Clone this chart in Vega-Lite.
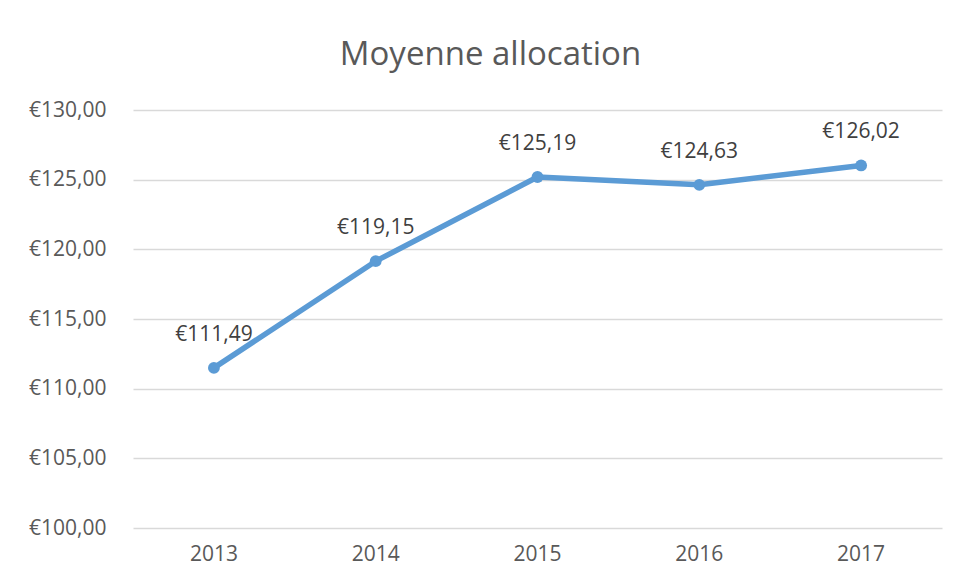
{
  "$schema": "https://vega.github.io/schema/vega-lite/v6.json",
  "width": 809,
  "height": 418,
  "autosize": {"type": "none"},
  "padding": {"left": 133, "top": 110, "right": 17, "bottom": 53},
  "background": "white",
  "config": {
    "locale": {"number": {"decimal": ",", "thousands": ".", "grouping": [3], "currency": ["€", ""]}},
    "view": {"stroke": null},
    "font": "Open Sans"
  },
  "title": {
    "text": "Moyenne allocation",
    "anchor": "middle",
    "frame": "group",
    "dx": -47,
    "offset": 27,
    "fontSize": 33,
    "font": "Open Sans",
    "fontWeight": "normal",
    "color": "#595959"
  },
  "data": {
    "values": [
      {"annee": "2013", "allocation": 111.49},
      {"annee": "2014", "allocation": 119.15},
      {"annee": "2015", "allocation": 125.19},
      {"annee": "2016", "allocation": 124.63},
      {"annee": "2017", "allocation": 126.02}
    ]
  },
  "encoding": {
    "x": {
      "field": "annee",
      "type": "ordinal",
      "scale": {"type": "band", "paddingInner": 0, "paddingOuter": 0},
      "axis": {
        "title": null,
        "labelAngle": 0,
        "domain": false,
        "ticks": false,
        "grid": false,
        "labelFontSize": 21,
        "labelColor": "#595959",
        "labelPadding": 15,
        "labelFont": "Open Sans"
      }
    },
    "y": {
      "field": "allocation",
      "type": "quantitative",
      "scale": {"domain": [100, 130], "nice": false, "zero": false},
      "axis": {
        "title": null,
        "values": [100, 105, 110, 115, 120, 125, 130],
        "format": "$.2f",
        "domain": false,
        "ticks": false,
        "grid": true,
        "gridColor": "#D9D9D9",
        "gridWidth": 1.5,
        "labelFontSize": 21,
        "labelColor": "#595959",
        "labelPadding": 27,
        "labelFont": "Open Sans"
      }
    }
  },
  "layer": [
    {
      "mark": {"type": "line", "color": "#5B9BD5", "strokeWidth": 5.5, "strokeCap": "round", "strokeJoin": "round"}
    },
    {
      "mark": {"type": "point", "filled": true, "color": "#5B9BD5", "size": 140, "opacity": 1}
    },
    {
      "mark": {"type": "text", "dy": -33, "baseline": "middle", "align": "center", "fontSize": 21, "color": "#404040", "font": "Open Sans"},
      "encoding": {"text": {"field": "allocation", "type": "quantitative", "format": "$.2f"}}
    }
  ]
}
